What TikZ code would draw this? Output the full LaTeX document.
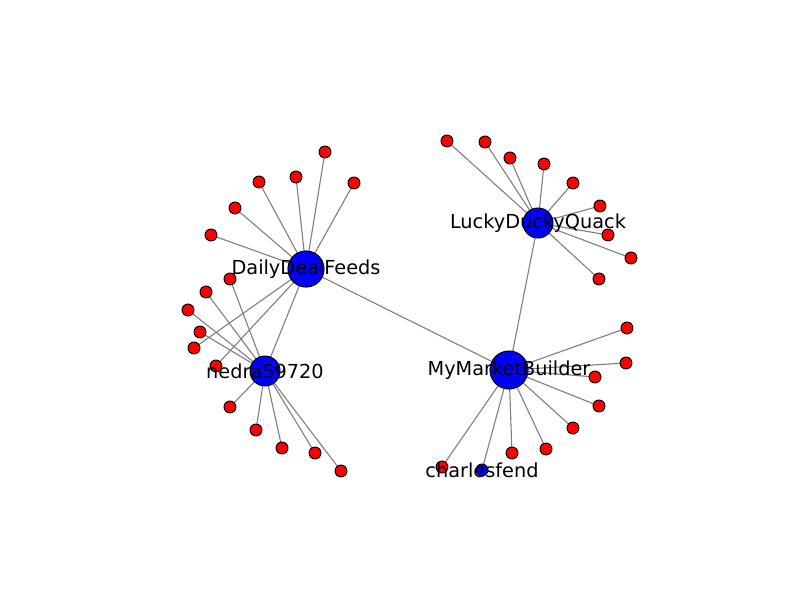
\documentclass[tikz,border=0pt]{standalone}
\usepackage{fontspec}
\setmainfont{DejaVu Sans}
\usetikzlibrary{backgrounds}
\begin{document}
\begin{tikzpicture}[x=0.72pt,y=-0.72pt,
  leaf/.style={circle,draw=black,line width=0.72pt,fill=red,minimum size=8.6pt,inner sep=0pt},
  hub/.style={circle,draw=black,line width=0.72pt,fill=blue,inner sep=0pt},
  edge/.style={draw=gray,line width=0.8pt},
  lbl/.style={font=\fontsize{13.9pt}{16pt}\selectfont,inner sep=0pt,anchor=center}]
\useasboundingbox (0,0) rectangle (800,600);
% hubs
\node[hub,minimum size=26pt] (ddf) at (306,269) {};
\node[hub,minimum size=21.6pt] (ned) at (265,371) {};
\node[hub,minimum size=21.6pt] (ldq) at (538,223) {};
\node[hub,minimum size=27.4pt] (mmb) at (509,370) {};
\node[hub,minimum size=8.6pt] (chf) at (482,470) {};
% DDF leaves
\node[leaf] (d1) at (325,152) {};
\node[leaf] (d2) at (354,183) {};
\node[leaf] (d3) at (296,177) {};
\node[leaf] (d4) at (259,182) {};
\node[leaf] (d5) at (235,208) {};
\node[leaf] (d6) at (211,235) {};
\node[leaf] (d7) at (194,348) {};
\node[leaf] (d8) at (216,366) {};
% nedra leaves
\node[leaf] (n1) at (230,279) {};
\node[leaf] (n2) at (206,292) {};
\node[leaf] (n3) at (188,310) {};
\node[leaf] (n4) at (200,332) {};
\node[leaf] (n5) at (230,407) {};
\node[leaf] (n6) at (256,430) {};
\node[leaf] (n7) at (282,448) {};
\node[leaf] (n8) at (315,453) {};
\node[leaf] (n9) at (341,471) {};
% LDQ leaves
\node[leaf] (l1) at (447,141) {};
\node[leaf] (l2) at (485,142) {};
\node[leaf] (l3) at (510,158) {};
\node[leaf] (l4) at (544,164) {};
\node[leaf] (l5) at (573,183) {};
\node[leaf] (l6) at (600,206) {};
\node[leaf] (l7) at (608,235) {};
\node[leaf] (l8) at (631,258) {};
\node[leaf] (l9) at (599,279) {};
% MMB leaves
\node[leaf] (m1) at (627,328) {};
\node[leaf] (m2) at (626,363) {};
\node[leaf] (m3) at (595,377) {};
\node[leaf] (m4) at (599,406) {};
\node[leaf] (m5) at (573,428) {};
\node[leaf] (m6) at (546,449) {};
\node[leaf] (m7) at (512,453) {};
\node[leaf] (m8) at (442,467) {};
% edges (behind nodes)
\begin{scope}[on background layer]
\foreach \a/\b in {ddf/d1,ddf/d2,ddf/d3,ddf/d4,ddf/d5,ddf/d6,ddf/d7,ddf/d8,ddf/ned,ddf/mmb,
  ned/n1,ned/n2,ned/n3,ned/n4,ned/n5,ned/n6,ned/n7,ned/n8,ned/n9,
  ldq/l1,ldq/l2,ldq/l3,ldq/l4,ldq/l5,ldq/l6,ldq/l7,ldq/l8,ldq/l9,ldq/mmb,
  mmb/m1,mmb/m2,mmb/m3,mmb/m4,mmb/m5,mmb/m6,mmb/m7,mmb/m8,mmb/chf}
  {\path[edge] (\a.center) -- (\b.center);}
\end{scope}
% labels
\node[lbl] (tddf) at (ddf.center) {DailyDealFeeds};
\node[lbl] (tned) at (ned.center) {nedra59720};
\node[lbl] (tldq) at (ldq.center) {LuckyDuckyQuack};
\node[lbl] (tmmb) at (mmb.center) {MyMarketBuilder};
\node[lbl] (tchf) at (chf.center) {charlesfend};
\end{tikzpicture}
\end{document}
